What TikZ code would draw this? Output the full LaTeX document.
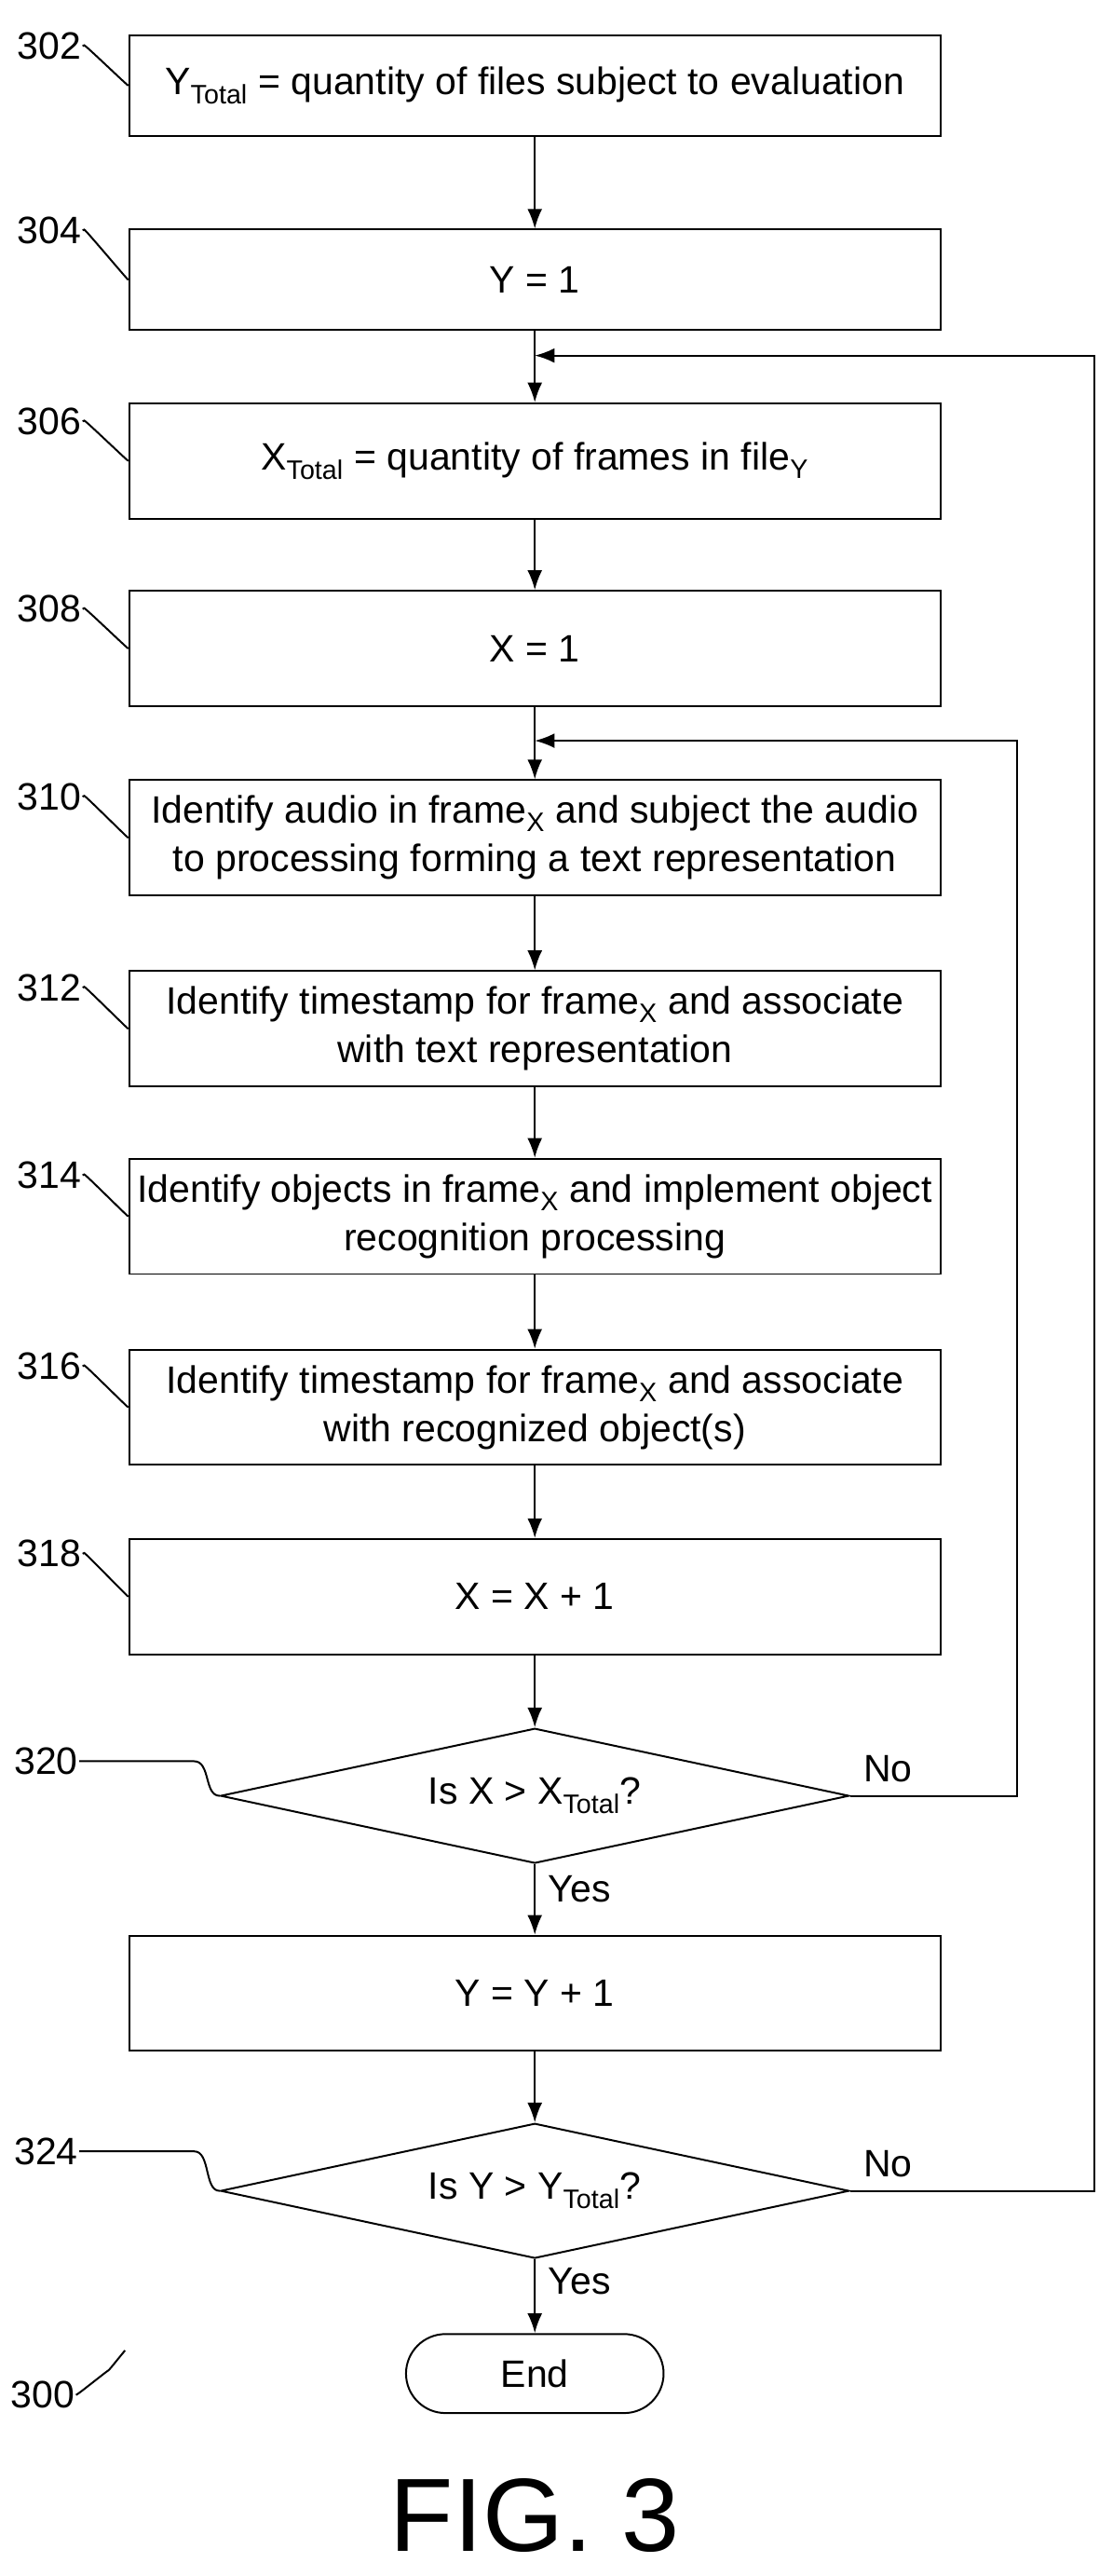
\documentclass[tikz,border=0pt]{standalone}
\usepackage{fontspec}
\setmainfont{Liberation Sans}
\usetikzlibrary{arrows.meta,shapes.geometric,shapes.misc}
\tikzset{
  box/.style={rectangle,draw,line width=1.6pt,minimum width=24.65cm,minimum height=3.5cm,align=center,inner sep=2pt},
  dec/.style={diamond,draw,line width=1.6pt,minimum width=19.1cm,minimum height=4.1cm,inner sep=0pt,aspect=4.6},
  term/.style={rounded rectangle,draw,line width=1.6pt,minimum width=8.6cm,minimum height=2.4cm},
  ref/.style={inner sep=1pt},
  flow/.style={line width=1.6pt,-{Latex[length=6mm,width=4.5mm]}},
  lead/.style={line width=1.6pt}
}
\newcommand{\lead}[2]{\draw [lead] (#1.east) .. controls +(0.7,0) and +(-0.5,0.3) .. ++(1.0,-0.5) .. controls +(0.5,-0.3) and +(-0.3,0.2) .. (#2.west);}
\begin{document}
\fontsize{33}{42}\selectfont
\begin{tikzpicture}[x=0.05cm,y=-0.05cm]
\useasboundingbox (0,0) rectangle (676,1565);
% boxes
\node [box,minimum height=3.05cm] (s302) at (325,52) {Y\textsubscript{Total} = quantity of files subject to evaluation};
\node [box,minimum height=3.05cm] (s304) at (325,170) {Y = 1};
\node [box] (s306) at (325,280) {X\textsubscript{Total} = quantity of frames in file\textsubscript{Y}};
\node [box] (s308) at (325,394) {X = 1};
\node [box] (s310) at (325,509) {Identify audio in frame\textsubscript{X} and subject the audio\\to processing forming a text representation};
\node [box] (s312) at (325,625) {Identify timestamp for frame\textsubscript{X} and associate\\with text representation};
\node [box] (s314) at (325,739) {Identify objects in frame\textsubscript{X} and implement object\\recognition processing};
\node [box] (s316) at (325,855) {Identify timestamp for frame\textsubscript{X} and associate\\with recognized object(s)};
\node [box] (s318) at (325,970) {X = X + 1};
\node [dec] (s320) at (325,1091) {Is X > X\textsubscript{Total}?};
\node [box] (s322) at (325,1211) {Y = Y + 1};
\node [dec] (s324) at (325,1331) {Is Y > Y\textsubscript{Total}?};
\node [term] (done) at (325,1442) {End};
\node (fig) at (325,1528) {\fontsize{90}{100}\selectfont FIG. 3};
% reference numerals
\foreach \n/\y in {302/28,304/140,306/256,308/370,310/484,312/600,314/714,316/830,318/944}
  \node [ref] (r\n) at (30,\y) {\n};
\foreach \n in {302,304,306,308,310,312,314,316,318}
  \lead{r\n}{s\n};
\node [ref] (r320) at (28,1070) {320};
\node [ref] (r324) at (28,1307) {324};
\draw [lead] (r320.east) -- (118,1070) .. controls (128,1070) and (124,1091) .. (s320.west);
\draw [lead] (r324.east) -- (118,1307) .. controls (128,1307) and (124,1331) .. (s324.west);
\node [ref] (r300) at (26,1455) {300};
\draw [lead] (r300.east) .. controls +(0.8,0) and +(-0.5,0) .. (66,1440) .. controls +(0.3,0) and +(-0.4,0.2) .. (76,1428);
% flow
\foreach \a/\b in {s302/s304,s304/s306,s306/s308,s308/s310,s310/s312,s312/s314,s314/s316,s316/s318,s318/s320,s322/s324}
  \draw [flow] (\a) -- (\b);
\draw [flow] (s320) -- node [right,pos=0.35] {Yes} (s322);
\draw [flow] (s324) -- node [right,pos=0.3] {Yes} (done);
\draw [flow] (s320.east) -- node [above right,pos=0.0] {No} (618,1091) -- (618,450) -- (325,450);
\draw [flow] (s324.east) -- node [above right,pos=0.0] {No} (665,1331) -- (665,216) -- (325,216);
\end{tikzpicture}
\end{document}
